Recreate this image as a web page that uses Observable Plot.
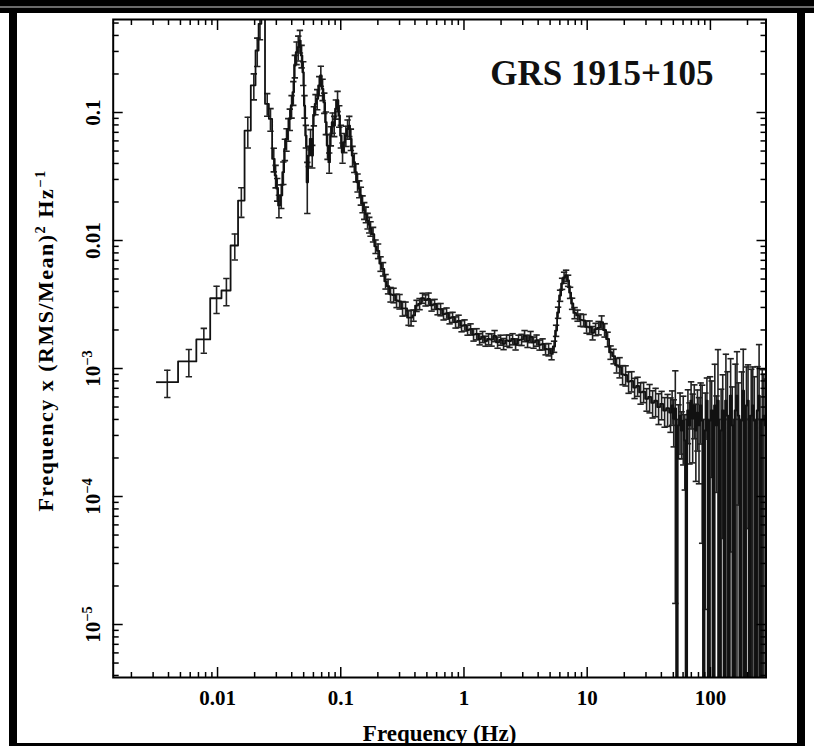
<!DOCTYPE html>
<html><head><meta charset="utf-8">
<script src="https://cdn.jsdelivr.net/npm/d3@7"></script>
<script src="https://cdn.jsdelivr.net/npm/@observablehq/plot@0.6"></script>
<style>
html,body{margin:0;padding:0;background:#fff;}
#wrap{position:relative;width:814px;height:746px;overflow:hidden;background:#fff;}
.bd{position:absolute;background:#000;}
</style></head><body>
<div id="wrap"></div>
<script>
// Bin centre frequencies (Hz)
const freq = [
0.00391,0.00585,0.00774,0.00982,0.0118,0.0138,0.0156,0.0176,0.0197,0.0210,
0.0221,0.0233,0.0253,0.0269,0.0286,0.0296,0.0305,0.0315,0.0329,0.0342,
0.0352,0.0363,0.0375,0.0386,0.0399,0.0412,0.0424,0.0438,0.0452,0.0466,
0.0481,0.0496,0.0508,0.0521,0.0535,0.0551,0.0569,0.0587,0.0605,0.0624,
0.0644,0.0669,0.0689,0.0712,0.0735,0.0757,0.0781,0.0806,0.0831,0.0858,
0.0885,0.0913,0.0942,0.0972,0.1002,0.1034,0.1068,0.1100,0.1136,0.1172,
0.1208,0.1247,0.1287,0.1326,0.1369,0.1413,0.1456,0.1503,0.1551,0.1599,
0.1651,0.1703,0.1745,0.1829,0.1916,0.2009,0.2104,0.2205,0.2310,0.2421,
0.2536,0.2683,0.2838,0.3001,0.3174,0.3357,0.3550,0.3720,0.3899,0.4124,
0.4361,0.4613,0.4879,0.5161,0.5458,0.5773,0.6106,0.6457,0.6830,0.7224,
0.7641,0.8082,0.8548,0.9042,0.9561,1.011,1.070,1.131,1.196,1.266,
1.339,1.416,1.497,1.584,1.675,1.772,1.874,1.982,2.096,2.217,
2.345,2.480,2.623,2.774,2.934,3.103,3.282,3.471,3.671,3.884,
4.107,4.345,4.595,4.861,5.140,5.386,5.592,5.804,6.026,6.256,
6.494,6.741,6.998,7.264,7.541,7.901,8.357,8.840,9.350,9.888,
10.46,11.06,11.70,12.38,13.09,13.84,14.64,15.48,16.38,17.32,
18.32,19.38,20.50,21.68,22.93,24.25,25.65,27.13,28.69,30.35,
32.10,33.95,35.91,37.98,40.17,42.49,44.94,
47.5,48.9,50.4,51.9,53.5,55.1,56.7,58.4,60.2,62.0,
63.8,65.7,67.7,69.7,71.8,74.0,76.2,78.5,80.8,83.3,
85.7,88.3,91.0,93.7,96.5,99.4,102.4,105.5,108.6,111.9,
115.2,118.7,122.2,125.9,129.7,133.6,137.6,141.7,145.9,150.3,
154.8,159.5,164.3,169.2,174.2,179.5,184.8,190.4,196.1,202.0,
208.0,214.3,220.7,227.3,234.1,241.2,248.4,255.8,263.5,271.4,
279.5
];
// Frequency x (RMS/Mean)^2 / Hz  (negative = below zero after noise subtraction)
const power = [
7.82e-4,1.135e-3,1.686e-3,3.54e-3,4.07e-3,9.14e-3,0.0205,0.0723,0.163,0.305,
0.493,0.9,0.117,0.0893,0.0435,0.0322,0.0254,0.0188,0.0225,0.0342,
0.052,0.0623,0.0746,0.0893,0.113,0.144,0.233,0.296,0.324,0.365,
0.279,0.206,0.113,0.0661,0.0285,0.0461,0.0623,0.0461,0.0948,0.117,
0.128,0.163,0.195,0.153,0.120,0.084,0.0552,0.0409,0.0661,0.084,
0.0791,0.107,0.124,0.0948,0.0661,0.049,0.0586,0.0661,0.0746,0.0791,
0.0623,0.0461,0.0409,0.0342,0.0285,0.0254,0.0225,0.0194,0.0172,0.016,
0.0143,0.0133,0.0124,0.0112,9.0e-3,8.3e-3,6.6e-3,6.0e-3,4.8e-3,4.4e-3,
3.8e-3,3.75e-3,3.4e-3,3.35e-3,2.95e-3,2.95e-3,2.5e-3,2.5e-3,2.6e-3,3.1e-3,
3.2e-3,3.55e-3,3.42e-3,3.5e-3,3.12e-3,3.18e-3,2.92e-3,2.9e-3,2.66e-3,2.7e-3,
2.48e-3,2.52e-3,2.3e-3,2.35e-3,2.15e-3,2.18e-3,2.0e-3,2.03e-3,1.84e-3,1.86e-3,
1.7e-3,1.77e-3,1.64e-3,1.7e-3,1.68e-3,1.8e-3,1.6e-3,1.67e-3,1.56e-3,1.66e-3,
1.64e-3,1.7e-3,1.55e-3,1.67e-3,1.68e-3,1.8e-3,1.64e-3,1.77e-3,1.6e-3,1.66e-3,
1.53e-3,1.55e-3,1.42e-3,1.41e-3,1.30e-3,1.486e-3,1.98e-3,2.74e-3,3.72e-3,4.61e-3,
5.14e-3,5.33e-3,4.87e-3,3.92e-3,3.22e-3,2.72e-3,2.6e-3,2.4e-3,2.38e-3,2.12e-3,
2.1e-3,1.9e-3,2.03e-3,2.08e-3,2.3e-3,2.0e-3,1.7e-3,1.34e-3,1.25e-3,1.06e-3,
1.03e-3,9.0e-4,8.9e-4,7.9e-4,8.0e-4,7.1e-4,7.3e-4,6.5e-4,6.6e-4,5.8e-4,
6.0e-4,5.4e-4,5.6e-4,5.0e-4,5.3e-4,4.7e-4,4.9e-4,
4.53e-4,5.14e-4,4.07e-4,4.87e-4,-2e-4,3.59e-4,4.29e-4,3.28e-4,3.92e-4,2.74e-4,
-2e-4,4.7e-4,3.59e-4,5.62e-4,4.07e-4,5.14e-4,3.28e-4,4.53e-4,3.59e-4,5.14e-4,
3.92e-4,-2e-4,3.28e-4,5.62e-4,-2e-4,3.92e-4,4.7e-4,-2e-4,5.14e-4,3.59e-4,
5.62e-4,-2e-4,3.28e-4,4.7e-4,-2e-4,5.62e-4,4.29e-4,-2e-4,6.15e-4,3.59e-4,
-2e-4,4.7e-4,6.15e-4,4.29e-4,-2e-4,3.92e-4,6.73e-4,-2e-4,5.14e-4,5.62e-4,
-2e-4,4.29e-4,5.14e-4,3.92e-4,-2e-4,4.7e-4,6.15e-4,-2e-4,3.92e-4,4.29e-4,
3.59e-4
];
// 1-sigma error as a fraction of |power|
const relErr = [
0.24,0.24,0.22,0.24,0.24,0.23,0.26,0.27,0.23,0.25,
0.25,0.2,0.2,0.2,0.21,0.2,0.2,0.2,0.21,0.2,
0.19,0.2,0.2,0.19,0.2,0.21,0.2,0.2,0.22,0.2,
0.2,0.21,0.2,0.2,0.43,0.18,0.18,0.2,0.17,0.18,
0.18,0.17,0.18,0.19,0.18,0.2,0.22,0.18,0.17,0.18,
0.18,0.17,0.18,0.19,0.2,0.18,0.17,0.18,0.17,0.18,
0.19,0.18,0.17,0.16,0.16,0.15,0.16,0.15,0.15,0.14,
0.14,0.14,0.13,0.13,0.12,0.13,0.13,0.12,0.13,0.13,
0.13,0.13,0.12,0.13,0.13,0.12,0.13,0.14,0.1,0.1,
0.1,0.09,0.1,0.11,0.1,0.09,0.1,0.11,0.1,0.1,
0.1,0.09,0.1,0.11,0.1,0.1,0.09,0.1,0.11,0.1,
0.1,0.1,0.09,0.1,0.11,0.1,0.1,0.09,0.1,0.1,
0.11,0.1,0.1,0.09,0.1,0.1,0.11,0.1,0.1,0.1,
0.09,0.1,0.1,0.11,0.1,0.1,0.1,0.1,0.1,0.1,
0.1,0.1,0.1,0.1,0.1,0.1,0.1,0.11,0.11,0.11,
0.12,0.12,0.11,0.12,0.12,0.12,0.13,0.12,0.13,0.13,
0.18,0.17,0.18,0.19,0.18,0.18,0.17,0.19,0.18,0.2,
0.25,0.24,0.25,0.27,0.25,0.26,0.28,
0.3,0.3,0.4,0.97,3,0.45,0.5,0.4,0.55,0.59,
3,0.45,0.5,0.4,0.55,0.45,0.6,0.5,0.65,0.5,
0.89,3,0.96,0.5,3,1.2,0.7,3,1.1,0.7,
1.5,3,1.1,0.9,3,1.3,1.2,3,0.94,1.0,
3,1.3,1.2,0.8,3,1.4,1.1,3,1.0,0.9,
3,1.3,1.0,1.2,3,1.2,1.5,3,1.5,1.1,
1.3
];
const firstBinLow = 0.0032; // left edge of the first frequency bin

const majorX = [0.01, 0.1, 1, 10, 100];
const xTickLabels = ["0.01", "0.1", "1", "10", "100"];
const minorX = [0.002,0.003,0.004,0.005,0.006,0.007,0.008,0.009,
  0.02,0.03,0.04,0.05,0.06,0.07,0.08,0.09,
  0.2,0.3,0.4,0.5,0.6,0.7,0.8,0.9,
  2,3,4,5,6,7,8,9, 20,30,40,50,60,70,80,90, 200];
const majorY = [1e-5, 1e-4, 1e-3, 0.01, 0.1];
const yTickLabels = ["10{\u22125}", "10{\u22124}", "10{\u22123}", "0.01", "0.1"];
const minorY = [4e-6,5e-6,6e-6,7e-6,8e-6,9e-6,
  2e-5,3e-5,4e-5,5e-5,6e-5,7e-5,8e-5,9e-5,
  2e-4,3e-4,4e-4,5e-4,6e-4,7e-4,8e-4,9e-4,
  0.002,0.003,0.004,0.005,0.006,0.007,0.008,0.009,
  0.02,0.03,0.04,0.05,0.06,0.07,0.08,0.09, 0.2,0.3,0.4,0.5];
const title = "GRS 1915+105";
const xTitle = "Frequency (Hz)";
const yTitle = "Frequency x (RMS/Mean){2} Hz{\u22121}";

const rows = freq.map((f, i) => ({f, p: power[i], s: relErr[i] * Math.abs(power[i])}));
const FLOOR = 1e-8;
const yv = d => d.p > 0 ? d.p : FLOOR;
const lo = d => (d.p - d.s) > 0 ? d.p - d.s : FLOOR;
const hi = d => d.p + d.s;
const loCaps = rows.filter(d => d.p - d.s > 0);
const hiCaps = rows.filter(d => d.p + d.s > 0);
const capSymbol = {draw(ctx, size) { const r = Math.sqrt(size / Math.PI); ctx.moveTo(-r, 0); ctx.lineTo(r, 0); }};
const INK = "#111";
const BAR = "#222";
const serif = "'Liberation Serif','Times New Roman',serif";

const chart = Plot.plot({
  width: 814, height: 746,
  marginLeft: 112.7, marginRight: 48.5, marginTop: 19, marginBottom: 69,
  x: {type: "log", domain: [0.001423, 282.6], axis: null},
  y: {type: "log", domain: [3.855e-6, 0.5329], axis: null},
  style: {fontFamily: serif, fontWeight: "bold", background: "transparent", color: "#000", overflow: "visible"},
  marks: [
    Plot.ruleX(hiCaps, {x: "f", y1: lo, y2: hi, stroke: BAR, strokeWidth: 1.6, clip: true}),
    Plot.dot(loCaps, {x: "f", y: d => d.p - d.s, symbol: capSymbol, r: 3.2, fill: "none", stroke: BAR, strokeWidth: 1.6, clip: true}),
    Plot.dot(hiCaps, {x: "f", y: hi, symbol: capSymbol, r: 3.2, fill: "none", stroke: BAR, strokeWidth: 1.6, clip: true}),
    Plot.line(rows, {x: "f", y: yv, curve: "step", stroke: INK, strokeWidth: 1.8, clip: true}),
    Plot.ruleY([rows[0]], {y: "p", x1: firstBinLow, x2: "f", stroke: INK, strokeWidth: 1.8}),
    Plot.frame({stroke: "#000", strokeWidth: 2}),
    // inward ticks on all four sides
    Plot.axisX({anchor: "bottom", ticks: majorX, tickSize: -10, tickFormat: () => "", label: null, strokeWidth: 1.5}),
    Plot.axisX({anchor: "bottom", ticks: minorX, tickSize: -5, tickFormat: () => "", label: null, strokeWidth: 1.5}),
    Plot.axisX({anchor: "top", ticks: majorX, tickSize: -10, tickFormat: () => "", label: null, strokeWidth: 1.5}),
    Plot.axisX({anchor: "top", ticks: minorX, tickSize: -5, tickFormat: () => "", label: null, strokeWidth: 1.5}),
    Plot.axisY({anchor: "left", ticks: majorY, tickSize: -10, tickFormat: () => "", label: null, strokeWidth: 1.5}),
    Plot.axisY({anchor: "left", ticks: minorY, tickSize: -6, tickFormat: () => "", label: null, strokeWidth: 1.5}),
    Plot.axisY({anchor: "right", ticks: majorY, tickSize: -10, tickFormat: () => "", label: null, strokeWidth: 1.5}),
    Plot.axisY({anchor: "right", ticks: minorY, tickSize: -6, tickFormat: () => "", label: null, strokeWidth: 1.5}),
    // tick labels
    Plot.text(majorX, {x: d => d, text: (d, i) => xTickLabels[i], frameAnchor: "bottom", lineAnchor: "bottom", dy: 27, fontSize: 21, fontWeight: "bold", fill: "#000"}),
    Plot.text(majorY, {y: d => d, text: (d, i) => yTickLabels[i], frameAnchor: "left", rotate: -90, textAnchor: "middle", lineAnchor: "bottom", dx: -13, fontSize: 21, fontWeight: "bold", fill: "#000"}),
    // axis titles
    Plot.text([xTitle], {frameAnchor: "bottom", lineAnchor: "bottom", dy: 63, fontSize: 23, fontWeight: "bold", fill: "#000"}),
    Plot.text([yTitle], {frameAnchor: "left", rotate: -90, textAnchor: "middle", lineAnchor: "bottom", dx: -60, dy: -8, fontSize: 22, fontWeight: "bold", fill: "#000", className: "ytitle"}),
    // source label
    Plot.text([title], {frameAnchor: "top-right", textAnchor: "end", lineAnchor: "bottom", dx: -52.5, dy: 65, fontSize: 35, fontWeight: "bold", fill: "#111"})
  ]
});

// turn {..} segments into raised superscript tspans
d3.select(chart).selectAll("text").each(function() {
  const t = this.textContent;
  if (!t || t.indexOf("{") < 0) return;
  const parts = t.split(/[{}]/);
  const fs = parseFloat(getComputedStyle(this).fontSize) || 20;
  const rise = Math.round(fs * 0.42);
  const sel = d3.select(this);
  sel.text(null);
  let up = false;
  parts.forEach((s, k) => {
    const sup = k % 2 === 1;
    if (s === "" && !sup) return;
    const ts = sel.append("tspan").text(s);
    if (sup) { ts.attr("dy", -rise).attr("font-size", fs * 0.72); up = true; }
    else if (up) { ts.attr("dy", rise); up = false; }
  });
});
d3.select(chart).selectAll(".ytitle text").attr("letter-spacing", "1.5px");

const wrap = document.getElementById("wrap");
wrap.appendChild(chart);
// outer black border of the figure
[
  {left: 0, top: 0, width: 814, height: 13},
  {left: 9, top: 0, width: 8, height: 746},
  {left: 797, top: 0, width: 8, height: 746},
  {left: 9, top: 743, width: 796, height: 3}
].forEach(r => {
  const d = document.createElement("div");
  d.className = "bd";
  Object.assign(d.style, {left: r.left + "px", top: r.top + "px", width: r.width + "px", height: r.height + "px"});
  wrap.appendChild(d);
});
const stripe = document.createElement("div");
Object.assign(stripe.style, {position: "absolute", left: "0px", top: "6px", width: "814px", height: "2px", background: "#6a6a6a"});
wrap.appendChild(stripe);
</script>
</body></html>
